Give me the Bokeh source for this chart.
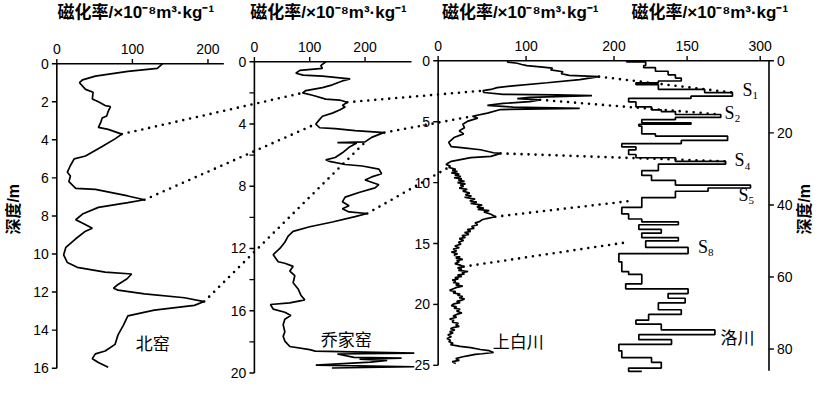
import math
from bokeh.plotting import figure
from bokeh.models import Range1d, Label
from bokeh.core.properties import value
from bokeh.embed import file_html
from bokeh.resources import INLINE

# ---------------- data ----------------
beiyao_depth = [0, 0.25, 0.4, 0.65, 0.85, 1.0, 1.35, 1.5, 1.85, 2.0, 2.2, 2.25, 2.5, 2.75, 2.85, 3.1, 3.35, 3.45,
                3.7, 3.95, 4.35, 4.85, 5.0, 5.35, 5.7, 5.9, 6.2, 6.55, 6.6, 6.95, 7.15, 7.3, 7.55, 7.9, 8.2, 8.4,
                8.65, 8.8, 9.2, 9.65, 10.05, 10.45, 10.7, 10.95, 11.05, 11.3, 11.6, 11.8, 11.9, 12.1, 12.3, 12.5,
                12.7, 12.95, 13.25, 13.75, 14.25, 14.75, 15.1, 15.25, 15.5, 15.7, 15.95]
beiyao_chi = [140, 133, 94, 51, 34, 30, 38, 48, 47, 55, 64, 71, 68, 66, 60, 58, 55, 68,
              86, 77, 60, 38, 23, 18, 14, 18, 16, 25, 51, 94, 116, 94, 55, 34, 25, 35,
              47, 38, 25, 12, 9, 14, 27, 64, 99, 93, 81, 75, 81, 116, 169, 195,
              182, 129, 94, 88, 81, 77, 64, 51, 47, 55, 68]

qiaojia_depth = [0, 0.25, 0.43, 0.55, 0.74, 0.86, 0.92, 1.05, 1.1, 1.23, 1.48, 1.66, 1.85, 2.0, 2.15, 2.4, 2.46,
                 2.6, 2.8, 2.9, 3.1, 3.3, 3.5, 3.7, 4.0, 4.24, 4.3, 4.43, 4.55, 4.6, 4.86, 5.15, 5.2, 5.22, 5.5,
                 5.85, 6.15, 6.3, 6.4, 6.6, 6.7, 6.9, 7.2, 7.4, 7.6, 7.9, 8.1, 8.4, 8.7, 9.0, 9.25, 9.45, 9.65,
                 9.75, 9.95, 10.3, 10.6, 10.9, 11.2, 11.6, 12.0, 12.4, 12.85, 12.95, 13.15, 13.45, 13.75, 14.2,
                 14.6, 15.0, 15.3, 15.5, 15.6, 15.9, 16.1, 16.3, 16.55, 16.9, 17.35, 17.65, 17.95, 18.3, 18.5,
                 18.6, 18.72, 18.78, 19.0, 19.05, 19.12, 19.2, 19.3, 19.5, 19.6, 19.68]
qiaojia_chi = [129, 120, 123, 82, 75, 88, 123, 159, 173, 159, 141, 123, 93, 87, 105, 129, 154,
               168, 159, 164, 154, 141, 123, 118, 111, 118, 146, 182, 235, 230, 212, 200, 150, 185, 171,
               159, 146, 129, 136, 164, 195, 225, 230, 212, 200, 225, 218, 189, 164, 159, 171, 159, 171,
               204, 182, 141, 100, 70, 61, 55, 46, 34, 43, 55, 70, 64, 73, 70,
               79, 84, 91, 64, 29, 34, 55, 66, 55, 52, 55, 52, 55, 64, 100,
               110, 289, 150, 180, 266, 190, 240, 210, 111, 289, 140]

# Shangbaichuan profile as (depth m, susceptibility) pairs
shangbai_profile = [
    (0.0, 79), (0.1, 79), (0.2, 90), (0.3, 95), (0.4, 101), (0.5, 116), (0.6, 130), (0.75, 128), (0.9, 142),
    (1.05, 140), (1.2, 149), (1.3, 183), (1.55, 161), (1.8, 124), (2.05, 85), (2.2, 67), (2.35, 60), (2.45, 51),
    (2.6, 52), (2.75, 74), (2.8, 135), (2.85, 175), (3.0, 104), (3.1, 90), (3.2, 116), (3.35, 104), (3.5, 74),
    (3.65, 56), (3.8, 85), (3.9, 161), (4.0, 71), (4.3, 56), (4.55, 39), (4.7, 45), (4.95, 34), (5.2, 28),
    (5.5, 30), (5.75, 24), (6.0, 29), (6.3, 18), (6.7, 12), (7.05, 15), (7.15, 29), (7.3, 48), (7.55, 63),
    (7.6, 71), (7.85, 60), (7.95, 37), (8.25, 15), (8.4, 11), (8.5, 9), (8.65, 14), (8.75, 12), (8.9, 20),
    (9.0, 16), (9.1, 22), (9.2, 15), (9.3, 24), (9.4, 19), (9.5, 26), (9.6, 18), (9.7, 27), (9.8, 23),
    (9.9, 30), (10.0, 22), (10.1, 31), (10.2, 25), (10.3, 29), (10.45, 24), (10.55, 33), (10.7, 28),
    (10.85, 36), (11.0, 31), (11.1, 38), (11.2, 30), (11.35, 42), (11.5, 36), (11.6, 44), (11.7, 37),
    (11.85, 50), (12.0, 44), (12.1, 52), (12.2, 45), (12.3, 58), (12.4, 52), (12.6, 60), (12.8, 65),
    (12.95, 55), (13.05, 50), (13.2, 47), (13.3, 42), (13.45, 45), (13.6, 38), (13.75, 41), (13.85, 33),
    (14.0, 37), (14.1, 30), (14.25, 35), (14.35, 27), (14.5, 31), (14.6, 24), (14.75, 29), (14.9, 23),
    (15.05, 26), (15.2, 19), (15.35, 24), (15.45, 17), (15.6, 21), (15.7, 15), (15.85, 22), (15.95, 18),
    (16.1, 25), (16.2, 20), (16.3, 28), (16.4, 21), (16.5, 24), (16.65, 19), (16.8, 26), (16.9, 29),
    (17.0, 22), (17.1, 27), (17.2, 23), (17.3, 34), (17.4, 27), (17.5, 30), (17.6, 22), (17.7, 27),
    (17.8, 19), (17.9, 23), (18.0, 16), (18.1, 20), (18.2, 17), (18.3, 24), (18.4, 20), (18.5, 28),
    (18.6, 21), (18.7, 18), (18.85, 13), (18.95, 20), (19.05, 17), (19.15, 25), (19.25, 22), (19.35, 28),
    (19.45, 24), (19.55, 30), (19.65, 27), (19.75, 21), (19.85, 25), (19.95, 18), (20.1, 15), (20.2, 21),
    (20.3, 18), (20.4, 25), (20.55, 21), (20.7, 27), (20.8, 22), (20.95, 17), (21.05, 21), (21.2, 13),
    (21.3, 18), (21.45, 16), (21.55, 23), (21.7, 20), (21.8, 24), (21.9, 17), (22.0, 14), (22.1, 19),
    (22.25, 13), (22.35, 17), (22.5, 11), (22.65, 15), (22.8, 10), (22.95, 14), (23.05, 12), (23.2, 17),
    (23.3, 14), (23.45, 25), (23.55, 37), (23.7, 48), (23.8, 58), (23.95, 63), (24.05, 50), (24.1, 42),
    (24.2, 35), (24.3, 28), (24.45, 20), (24.6, 24), (24.7, 16), (24.85, 20),
]
shangbai_depth = [d for d, v in shangbai_profile]
shangbai_chi = [v for d, v in shangbai_profile]

luochuan_depth = [0, 0.3, 1.3, 1.9, 2.9, 3.9, 4.8, 5.6, 6.1, 6.6, 7.9, 8.8, 9.8, 10.4, 11.4, 12.8, 13.6, 14.1,
                  14.9, 15.7, 16.3, 17.2, 17.6, 18.1, 20.3, 20.9, 22.1, 23.0, 23.9, 24.7, 26.0, 26.9, 27.9,
                  28.7, 30.5, 31.8, 33.2, 34.5, 35.3, 36.2, 38.0, 40.7, 42.5, 43.9, 44.7, 45.5, 46.8, 47.8,
                  49.1, 50.0, 51.8, 53.5, 55.8, 58.5, 59.3, 61.9, 63.3, 64.6, 65.9, 67.2, 69.1, 70.4, 72.0,
                  73.1, 74.7, 76.0, 77.4, 78.7, 80.5, 82.4, 83.7, 85.3, 86.2]
luochuan_chi = [26, 65, 61, 85, 111, 126, 138, 91, 45, 91, 186, 243, 158, 30, 45, 77, 97, 126,
                219, 126, 57, 158, 51, 57, 85, 233, 138, 16, 45, 30, 45, 126, 229,
                91, 57, 77, 126, 280, 193, 126, 57, 16, 30, 57, 132, 51, 97, 57,
                132, 65, 152, 10, 16, 30, 57, 24, 152, 111, 146, 91, 138, 71, 45,
                97, 207, 51, 118, 10, 16, 77, 97, 30, 57]

site_names = ["北窑", "乔家窑", "上白川", "洛川"]

# tick values
p1_xticks, p1_yticks = [0, 100, 200], [0, 2, 4, 6, 8, 10, 12, 14, 16]
p2_xticks, p2_yticks, p2_yminor = [0, 100, 200], [0, 4, 8, 12, 16, 20], [2, 6, 10, 14, 18]
p3_xticks, p3_yticks = [0, 100, 200], [0, 5, 10, 15, 20, 25]
p4_xticks, p4_yticks = [150, 300], [0, 20, 40, 60, 80]

# correlation lines: (panel, value, depth) -> (panel, value, depth)
conn_from_panel = ["p1", "p1", "p2", "p2", "p1", "p2", "p3", "p3", "p3", "p3", "p3"]
conn_from_value = [86, 116, 168, 235, 195, 204, 183, 116, 71, 65, 29]
conn_from_depth = [3.7, 7.15, 2.6, 4.55, 12.5, 9.75, 1.3, 3.2, 7.6, 12.8, 16.9]
conn_to_panel = ["p2", "p2", "p3", "p3", "p2", "p3", "p4", "p4", "p4", "p4", "p4"]
conn_to_value = [87, 111, 51, 39, 200, 12, 243, 219, 229, 40, 30]
conn_to_depth = [2.0, 4.0, 2.45, 4.55, 5.17, 8.75, 8.8, 14.9, 27.9, 38.8, 50.3]

paleosol_labels = ["1", "2", "4", "5", "8"]

# ---------------- layout (canvas coordinates of the reference picture) ----------------
CX0, CX1 = 4, 833     # canvas x range shown by the figure
CY0, CY1 = 4, 404     # canvas y range (top, bottom)

panels = {
    "p1": dict(x0=61, xppu=0.765, y0=70, yppu=19.875, xmax=221, ymax=16,
               xticks=p1_xticks, yticks=p1_yticks, yminor=[], side="left"),
    "p2": dict(x0=261, xppu=0.56, y0=68, yppu=16.25, xmax=284, ymax=20,
               xticks=p2_xticks, yticks=p2_yticks, yminor=p2_yminor, side="left"),
    "p3": dict(x0=447, xppu=0.89, y0=67, yppu=12.72, xmax=200, ymax=25,
               xticks=p3_xticks, yticks=p3_yticks, yminor=[], side="left"),
    "p4": dict(x0=625, xppu=0.4933, y0=67, yppu=3.7625, xmax=318, ymax=86,
               xticks=p4_xticks, yticks=p4_yticks, yminor=[], side="right"),
}

p = figure(width=819, height=383, x_range=Range1d(CX0, CX1), y_range=Range1d(CY1, CY0),
           output_backend="svg", toolbar_location=None,
           x_axis_location=None, y_axis_location=None,
           min_border_left=0, min_border_right=0, min_border_top=0, min_border_bottom=0)
p.outline_line_color = None
for g in p.grid:
    g.visible = False

for k, c in panels.items():
    p.extra_x_ranges["x" + k] = Range1d((CX0 - c["x0"]) / c["xppu"], (CX1 - c["x0"]) / c["xppu"])
    p.extra_y_ranges["y" + k] = Range1d((CY1 - c["y0"]) / c["yppu"], (CY0 - c["y0"]) / c["yppu"])

def to_canvas(k, v, d):
    c = panels[k]
    return c["x0"] + v * c["xppu"], c["y0"] + d * c["yppu"]

TICK = 5.0
LW = 1.6
CURVE_W = 1.7
tick_font = value("Liberation Sans")
MIXED = "'Liberation Sans', 'Noto Sans CJK SC', sans-serif"

# ---------------- axes (drawn in each panel's own data ranges) ----------------
for k, c in panels.items():
    rn = dict(x_range_name="x" + k, y_range_name="y" + k)
    tx = TICK / c["xppu"]
    ty = TICK / c["yppu"]
    # top axis
    p.segment(x0=[0], y0=[0], x1=[c["xmax"]], y1=[0], line_color="black", line_width=LW, **rn)
    p.segment(x0=c["xticks"], y0=[0] * len(c["xticks"]), x1=c["xticks"], y1=[-ty] * len(c["xticks"]),
              line_color="black", line_width=1.4, **rn)
    p.text(x=c["xticks"], y=[0] * len(c["xticks"]), text=[str(t) for t in c["xticks"]],
           y_offset=-10, text_align="center", text_baseline="bottom",
           text_font=tick_font, text_font_size="14px", text_color="black", **rn)
    # depth axis
    xl = 0 if c["side"] == "left" else c["xmax"]
    sgn = -1 if c["side"] == "left" else 1
    p.segment(x0=[xl], y0=[0], x1=[xl], y1=[c["ymax"]], line_color="black", line_width=LW, **rn)
    allt = c["yticks"] + c["yminor"]
    p.segment(x0=[xl] * len(allt), y0=allt, x1=[xl + sgn * tx] * len(allt), y1=allt,
              line_color="black", line_width=1.4, **rn)
    p.text(x=[xl] * len(c["yticks"]), y=c["yticks"], text=[str(t) for t in c["yticks"]],
           x_offset=sgn * 8, text_align="right" if sgn < 0 else "left", text_baseline="middle",
           text_font=tick_font, text_font_size="14px", text_color="black", **rn)

# ---------------- curves ----------------
p.line(beiyao_chi, beiyao_depth, x_range_name="xp1", y_range_name="yp1", line_color="black", line_width=CURVE_W)
p.line(qiaojia_chi, qiaojia_depth, x_range_name="xp2", y_range_name="yp2", line_color="black", line_width=CURVE_W)
p.line(shangbai_chi, shangbai_depth, x_range_name="xp3", y_range_name="yp3", line_color="black", line_width=CURVE_W)

# Luochuan: stepped profile (value held over each depth interval)
step_x, step_y = [], []
for i in range(len(luochuan_depth)):
    step_x.append(luochuan_chi[i]); step_y.append(luochuan_depth[i])
    if i + 1 < len(luochuan_depth):
        step_x.append(luochuan_chi[i]); step_y.append(luochuan_depth[i + 1])
p.line(step_x, step_y, x_range_name="xp4", y_range_name="yp4", line_color="black", line_width=CURVE_W)

# ---------------- correlation dotted lines ----------------
for i in range(len(conn_from_panel)):
    xa_, ya_ = to_canvas(conn_from_panel[i], conn_from_value[i], conn_from_depth[i])
    xb_, yb_ = to_canvas(conn_to_panel[i], conn_to_value[i], conn_to_depth[i])
    p.line([xa_, xb_], [ya_, yb_], line_color="black", line_width=2.6,
           line_dash="0 7", line_cap="round")

# ---------------- texts ----------------
title = "磁化率/×10⁻⁸m³·kg⁻¹"
for cx in [141, 336, 530, 722]:
    p.add_layout(Label(x=cx, y=17, text=title, text_align="center", text_baseline="middle",
                       text_font=MIXED, text_font_style="bold", text_font_size="17px",
                       text_color="black"))

for name, (nx, ny) in zip(site_names, [(158, 361), (354, 357), (528, 359), (750, 355)]):
    p.add_layout(Label(x=nx, y=ny, text=name, text_align="center", text_baseline="middle",
                       text_font="Noto Sans CJK SC", text_font_size="17px", text_color="black"))

for lab, (sx, sy) in zip(paleosol_labels, [(760, 97), (742, 121), (752, 171), (756, 207), (715, 261)]):
    p.add_layout(Label(x=sx, y=sy, text="S", text_align="center", text_baseline="middle",
                       text_font="Liberation Serif", text_font_size="18px", text_color="black"))
    p.add_layout(Label(x=sx + 8, y=sy + 6, text=lab, text_align="center", text_baseline="middle",
                       text_font="Liberation Serif", text_font_size="11px", text_color="black"))

for ax_x in [17, 818]:
    p.add_layout(Label(x=ax_x, y=222, text="深度/m", angle=math.pi / 2, text_align="center",
                       text_baseline="middle", text_font=MIXED, text_font_style="bold",
                       text_font_size="16px", text_color="black"))

open("out.html", "w").write(file_html(p, INLINE))
